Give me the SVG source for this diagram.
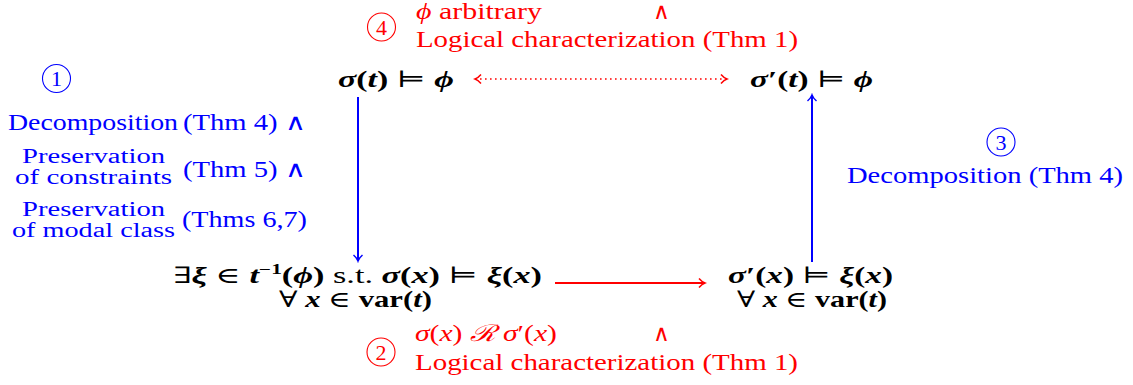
<svg xmlns="http://www.w3.org/2000/svg" width="1133" height="385" viewBox="0 0 1133 385">
<style>
text{font-family:"Liberation Serif","Times New Roman",serif;}
.sym{font-family:"DejaVu Serif","Liberation Serif",serif;font-weight:normal;font-style:normal;}
.lbl{font-size:23px;}
.tight{font-size:20.5px;}
.red{fill:#ff0000;}
.blue{fill:#0000ff;}
.math{font-size:22.5px;fill:#000;}
.bi{font-weight:bold;font-style:italic;}
.b{font-weight:bold;}
.it{font-style:italic;}
.circ{fill:none;stroke-width:1.1;}
.num{font-size:22px;text-anchor:middle;}
</style>
<defs>
<marker id="chevR" viewBox="-8 -6 10 12" markerWidth="10" markerHeight="12" refX="0" refY="0" orient="auto-start-reverse" markerUnits="userSpaceOnUse">
<path d="M-6,-4.5 Q-3,-1 0,0 Q-3,1 -6,4.5" fill="none" stroke="#ff0000" stroke-width="1.5"/>
</marker>
<marker id="chevB" viewBox="-8 -6 10 12" markerWidth="10" markerHeight="12" refX="0" refY="0" orient="auto" markerUnits="userSpaceOnUse">
<path d="M-6,-4.5 Q-3,-1 0,0 Q-3,1 -6,4.5" fill="none" stroke="#0000ff" stroke-width="1.5"/>
</marker>
</defs>

<g id="connectors">
<line x1="475" y1="79" x2="727" y2="79" stroke="#ff0000" stroke-width="1.6" stroke-dasharray="1.6 3.4" marker-start="url(#chevR)" marker-end="url(#chevR)"/>
<line x1="358" y1="97" x2="358" y2="261" stroke="#0000ff" stroke-width="2" marker-end="url(#chevB)"/>
<line x1="812" y1="262" x2="812" y2="95" stroke="#0000ff" stroke-width="2" marker-end="url(#chevB)"/>
<line x1="555" y1="283" x2="705" y2="283" stroke="#ff0000" stroke-width="2" marker-end="url(#chevR)"/>
</g>

<g id="node-top-left">
<text class="math" x="338" y="87" textLength="116" lengthAdjust="spacingAndGlyphs"><tspan class="bi">σ</tspan><tspan class="b">(</tspan><tspan class="bi">t</tspan><tspan class="b">)</tspan> <tspan class="sym">⊨</tspan> <tspan class="bi">ϕ</tspan></text>
</g>

<g id="node-top-right">
<text class="math" x="750" y="87" textLength="123" lengthAdjust="spacingAndGlyphs"><tspan class="bi">σ</tspan><tspan class="b">′(</tspan><tspan class="bi">t</tspan><tspan class="b">)</tspan> <tspan class="sym">⊨</tspan> <tspan class="bi">ϕ</tspan></text>
</g>

<g id="node-bottom-left">
<text class="math" x="173" y="283" textLength="369" lengthAdjust="spacingAndGlyphs"><tspan class="sym">∃</tspan><tspan class="bi">ξ</tspan> <tspan class="sym">∈</tspan> <tspan class="bi">t</tspan><tspan class="b" font-size="14" dy="-9">−1</tspan><tspan class="b" dy="9">(</tspan><tspan class="bi">ϕ</tspan><tspan class="b">)</tspan> s.t. <tspan class="bi">σ</tspan><tspan class="b">(</tspan><tspan class="bi">x</tspan><tspan class="b">)</tspan> <tspan class="sym">⊨</tspan> <tspan class="bi">ξ</tspan><tspan class="b">(</tspan><tspan class="bi">x</tspan><tspan class="b">)</tspan></text>
<text class="math" x="279" y="307" textLength="153" lengthAdjust="spacingAndGlyphs"><tspan class="sym">∀</tspan> <tspan class="bi">x</tspan> <tspan class="sym">∈</tspan> <tspan class="b">var(</tspan><tspan class="bi">t</tspan><tspan class="b">)</tspan></text>
</g>

<g id="node-bottom-right">
<text class="math" x="728" y="283" textLength="165" lengthAdjust="spacingAndGlyphs"><tspan class="bi">σ</tspan><tspan class="b">′(</tspan><tspan class="bi">x</tspan><tspan class="b">)</tspan> <tspan class="sym">⊨</tspan> <tspan class="bi">ξ</tspan><tspan class="b">(</tspan><tspan class="bi">x</tspan><tspan class="b">)</tspan></text>
<text class="math" x="737" y="307" textLength="150" lengthAdjust="spacingAndGlyphs"><tspan class="sym">∀</tspan> <tspan class="bi">x</tspan> <tspan class="sym">∈</tspan> <tspan class="b">var(</tspan><tspan class="bi">t</tspan><tspan class="b">)</tspan></text>
</g>

<g id="label-4">
<circle class="circ" cx="381.5" cy="27" r="14" stroke="#ff0000"/>
<text class="num red" x="381.5" y="34.5">4</text>
<text class="lbl red" x="416" y="19" textLength="126" lengthAdjust="spacingAndGlyphs"><tspan class="it">ϕ</tspan> arbitrary</text>
<text class="lbl red" x="653" y="19">∧</text>
<text class="lbl red" x="416" y="47" textLength="382" lengthAdjust="spacingAndGlyphs">Logical characterization (Thm 1)</text>
</g>

<g id="label-1">
<circle class="circ" cx="56.5" cy="78.5" r="14" stroke="#0000ff"/>
<text class="num blue" x="56.5" y="86">1</text>
<text class="lbl blue" x="8" y="130" textLength="170" lengthAdjust="spacingAndGlyphs">Decomposition</text>
<text class="lbl blue" x="183" y="130" textLength="123" lengthAdjust="spacingAndGlyphs">(Thm 4) ∧</text>
<text class="tight blue" x="22" y="163" textLength="143" lengthAdjust="spacingAndGlyphs">Preservation</text>
<text class="tight blue" x="15" y="184" textLength="157" lengthAdjust="spacingAndGlyphs">of constraints</text>
<text class="lbl blue" x="183" y="177" textLength="123" lengthAdjust="spacingAndGlyphs">(Thm 5) ∧</text>
<text class="tight blue" x="22" y="216" textLength="143" lengthAdjust="spacingAndGlyphs">Preservation</text>
<text class="tight blue" x="12" y="237" textLength="163" lengthAdjust="spacingAndGlyphs">of modal class</text>
<text class="lbl blue" x="182" y="227" textLength="125" lengthAdjust="spacingAndGlyphs">(Thms 6,7)</text>
</g>

<g id="label-3">
<circle class="circ" cx="1001" cy="142" r="14" stroke="#0000ff"/>
<text class="num blue" x="1001" y="149.5">3</text>
<text class="lbl blue" x="847" y="183" textLength="276" lengthAdjust="spacingAndGlyphs">Decomposition (Thm 4)</text>
</g>

<g id="label-2">
<circle class="circ" cx="381" cy="352" r="14" stroke="#ff0000"/>
<text class="num red" x="381" y="359.5">2</text>
<text class="lbl red" x="415" y="341" textLength="142" lengthAdjust="spacingAndGlyphs"><tspan class="it">σ</tspan>(<tspan class="it">x</tspan>) <tspan class="it">ℛ</tspan> <tspan class="it">σ</tspan>′(<tspan class="it">x</tspan>)</text>
<text class="lbl red" x="653" y="341">∧</text>
<text class="lbl red" x="415" y="370" textLength="383" lengthAdjust="spacingAndGlyphs">Logical characterization (Thm 1)</text>
</g>
</svg>
